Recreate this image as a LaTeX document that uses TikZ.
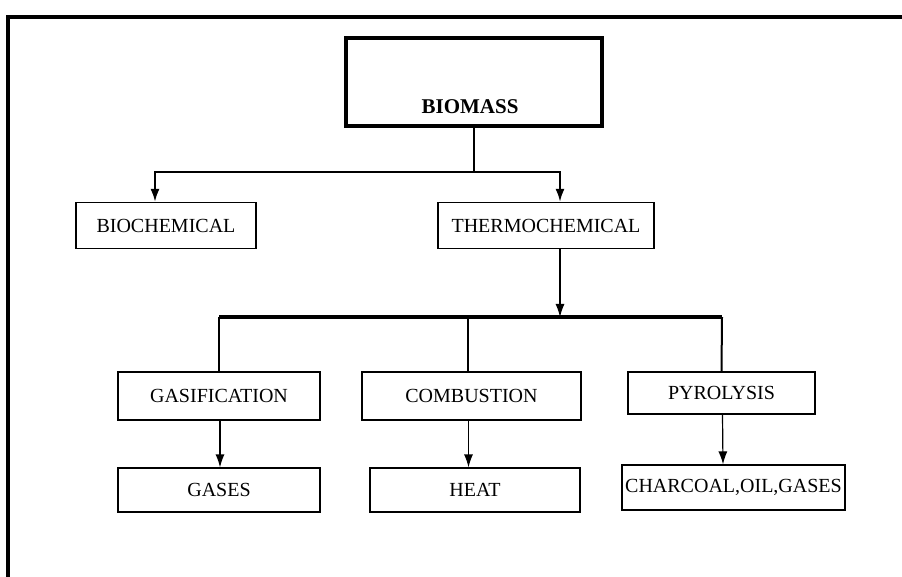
\documentclass[tikz,border=0pt]{standalone}
\usepackage{fontspec}
\setmainfont{Liberation Serif}
\usetikzlibrary{arrows.meta}
\begin{document}
\begin{tikzpicture}[x=1pt,y=-1pt,
  box/.style={draw, line width=1.2pt, inner sep=0pt, font=\fontsize{20}{22}\selectfont},
  bigbox/.style={draw, line width=4pt, inner sep=0pt},
  conn/.style={line width=2pt},
  thinconn/.style={line width=1.2pt},
  arr/.style={-{Latex[length=13pt,width=9pt]}},
  bar/.style={line width=4.5pt}]
\useasboundingbox (0,0) rectangle (902,577);
% frame
\draw[line width=4pt] (902,17) -- (8,17) -- (8,577);
% nodes
\node[bigbox, minimum width=256pt, minimum height=88pt] (biomass) at (474,82) {};
\node[font=\fontsize{21}{24}\selectfont\bfseries, inner sep=0pt] (biomasstxt) at (470,107) {BIOMASS};
\node[box, minimum width=180pt, minimum height=46pt] (bio) at (166,225.5) {BIOCHEMICAL};
\node[box, minimum width=216pt, minimum height=46pt] (thermo) at (546,225.5) {THERMOCHEMICAL};
\node[box, minimum width=202pt, minimum height=48pt] (gasif) at (219,396) {GASIFICATION};
\node[box, minimum width=219pt, minimum height=48pt] (comb) at (471.5,396) {COMBUSTION};
\node[box, minimum width=187pt, minimum height=42pt] (pyro) at (721.5,393) {PYROLYSIS};
\node[box, minimum width=202pt, minimum height=44pt] (gases) at (219,490) {GASES};
\node[box, minimum width=210pt, minimum height=44pt] (heat) at (475,490) {HEAT};
\node[box, minimum width=223pt, minimum height=45pt] (charcoal) at (733.5,487.5) {CHARCOAL,OIL,GASES};
% top connectors
\coordinate (j1) at (biomass.south |- 0,172);
\draw[conn] (biomass.south) -- (j1);
\draw[conn, arr] (j1) -| ([xshift=-11pt]bio.north);
\draw[conn, arr] (j1) -| ([xshift=14pt]thermo.north);
% thermo to bar
\coordinate (barL) at (219,317);
\coordinate (barR) at (722,317);
\draw[thinconn, arr] ([xshift=14pt]thermo.south) -- ([xshift=14pt]thermo.south |- barL);
\draw[bar] (barL) -- (barR);
\draw[conn] (barL) -- (gasif.north);
\draw[conn] ([xshift=-3.5pt]comb.north |- barL) -- ([xshift=-3.5pt]comb.north);
\draw[conn] (barR) -- (pyro.north);
% lower arrows
\draw[thinconn, arr] ([xshift=1pt]gasif.south) -- ([xshift=1pt]gases.north);
\draw[thinconn, arr] ([xshift=-3pt]comb.south) -- ([xshift=-6.5pt]heat.north);
\draw[thinconn, arr] ([xshift=1pt]pyro.south) -- ([xshift=-10.5pt]charcoal.north);
\end{tikzpicture}
\end{document}
